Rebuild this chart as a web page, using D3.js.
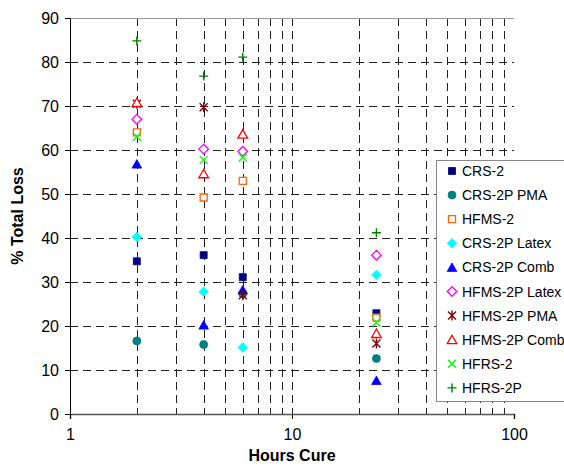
<!DOCTYPE html>
<html><head><meta charset="utf-8">
<script src="https://cdn.jsdelivr.net/npm/d3@7"></script>
<style>body{margin:0;background:#fff}svg{display:block;font-family:"Liberation Sans",Arial,sans-serif}</style>
</head><body><svg id="c" width="564" height="475"></svg>
<script>
const hours = [2, 4, 6, 24];
const seriesNames = ["CRS-2","CRS-2P PMA","HFMS-2","CRS-2P Latex","CRS-2P Comb","HFMS-2P Latex","HFMS-2P PMA","HFMS-2P Comb","HFRS-2","HFRS-2P"];
const crs2        = [34.7, 36.1, 31.1, 22.9];
const crs2pPma    = [16.6, 15.8, 27.3, 12.6];
const hfms2       = [64.0, 49.2, 53.0, 21.9];
const crs2pLatex  = [40.2, 27.8, 15.1, 31.6];
const crs2pComb   = [56.8, 20.2, 28.2, 7.6];
const hfms2pLatex = [67.0, 60.2, 59.7, 36.1];
const hfms2pPma   = [70.5, 69.7, 27.0, 16.0];
const hfms2pComb  = [70.8, 54.6, 63.6, 18.3];
const hfrs2       = [63.0, 57.7, 58.3, 20.8];
const hfrs2p      = [84.8, 76.8, 81.1, 41.2];
const yTicks = [0,10,20,30,40,50,60,70,80,90];
const xMajor = [1,10,100];

const values = [crs2,crs2pPma,hfms2,crs2pLatex,crs2pComb,hfms2pLatex,hfms2pPma,hfms2pComb,hfrs2,hfrs2p];
const styles = [
  {shape:"square", color:"#000080", fill:true},
  {shape:"circle", color:"#008080", fill:true},
  {shape:"square", color:"#FF6600", fill:false},
  {shape:"diamond", color:"#00FFFF", fill:true},
  {shape:"triangle", color:"#0000FF", fill:true},
  {shape:"diamond", color:"#FF00FF", fill:false},
  {shape:"star", color:"#800000", fill:false},
  {shape:"triangle", color:"#FF0000", fill:false},
  {shape:"x", color:"#00FF00", fill:false},
  {shape:"plus", color:"#008000", fill:false}
];

const svg = d3.select("#c");
const x = d3.scaleLog().domain([1,100]).range([70,514]);
const y = d3.scaleLinear().domain([0,90]).range([414,18]);

function path(shape){
  switch(shape){
    case "square": return "M-3.5,-3.5H3.5V3.5H-3.5Z";
    case "circle": return "M4,0A4,4 0 1,1 -4,0A4,4 0 1,1 4,0Z";
    case "diamond": return "M0,-4.8L4.8,0L0,4.8L-4.8,0Z";
    case "triangle": return "M0,-4.5L4.8,4L-4.8,4Z";
    case "x": return "M-4,-4L4,4M-4,4L4,-4";
    case "plus": return "M-4.5,0H4.5M0,-4.5V4.5";
    case "star": return "M-4,-4L4,4M-4,4L4,-4M0,-5V5";
  }
}
function drawMarker(g, st){
  const line = (st.shape==="x"||st.shape==="plus"||st.shape==="star");
  g.append("path").attr("d", path(st.shape))
    .attr("fill", line ? "none" : (st.fill ? st.color : "#fff"))
    .attr("stroke", st.color)
    .attr("stroke-width", line ? 1.4 : (st.fill ? 0.8 : 1.3));
}

// grid
const minor = [];
[1,10].forEach(d=>{for(let k=2;k<=10;k++) minor.push(d*k);});
const grid = svg.append("g").attr("shape-rendering","crispEdges");
grid.selectAll(".v").data(minor.filter(v=>v<100)).join("line")
  .attr("x1",d=>Math.round(x(d))+0.5).attr("x2",d=>Math.round(x(d))+0.5)
  .attr("y1",y(90)).attr("y2",y(0))
  .attr("stroke","#222").attr("stroke-dasharray","8,5");
grid.selectAll(".h").data(yTicks.filter(v=>v>0&&v<90)).join("line")
  .attr("x1",x(1)).attr("x2",x(100))
  .attr("y1",d=>Math.round(y(d))+0.5).attr("y2",d=>Math.round(y(d))+0.5)
  .attr("stroke","#222").attr("stroke-dasharray","8,5");
grid.append("line").attr("x1",x(1)).attr("x2",x(100))
  .attr("y1",Math.round(y(90))+0.5).attr("y2",Math.round(y(90))+0.5)
  .attr("stroke","#999");

// axes
const ya = svg.append("g").attr("transform",`translate(${x(1)},0)`)
  .call(d3.axisLeft(y).tickValues(yTicks).tickSize(5).tickPadding(6));
const xa = svg.append("g").attr("transform",`translate(0,${y(0)})`)
  .call(d3.axisBottom(x).tickValues(xMajor).tickFormat(d3.format("d")).tickSize(5).tickPadding(10));
[ya,xa].forEach(a=>{
  a.select(".domain").attr("stroke","#000");
  a.selectAll(".tick line").attr("stroke","#000");
  a.selectAll("text").attr("font-size",16).attr("fill","#000").attr("font-family","Liberation Sans, Arial, sans-serif");
});
xa.select(".domain").attr("stroke","#555").attr("stroke-width",1.5);

// titles
svg.append("text").attr("x",292).attr("y",461).attr("text-anchor","middle")
  .attr("font-size",16).attr("font-weight","bold").text("Hours Cure");
svg.append("text").attr("transform","translate(23,216) rotate(-90)").attr("text-anchor","middle")
  .attr("font-size",16).attr("font-weight","bold").text("% Total Loss");

// points
values.forEach((vals,i)=>{
  const g = svg.append("g");
  vals.forEach((v,j)=>{
    if(v==null) return;
    const m = g.append("g").attr("transform",`translate(${x(hours[j])},${y(v)})`);
    drawMarker(m, styles[i]);
  });
});

// legend
const lg = svg.append("g").attr("transform","translate(436,160)");
lg.append("rect").attr("x",0.5).attr("y",0.5).attr("width",140).attr("height",241)
  .attr("fill","#fff").attr("stroke","#888");
seriesNames.forEach((n,i)=>{
  const row = lg.append("g").attr("transform",`translate(16,${11+i*24.1})`);
  drawMarker(row, styles[i]);
  row.append("text").attr("x",10).attr("y",5).attr("font-size",14).attr("fill","#000").text(n);
});
</script></body></html>
